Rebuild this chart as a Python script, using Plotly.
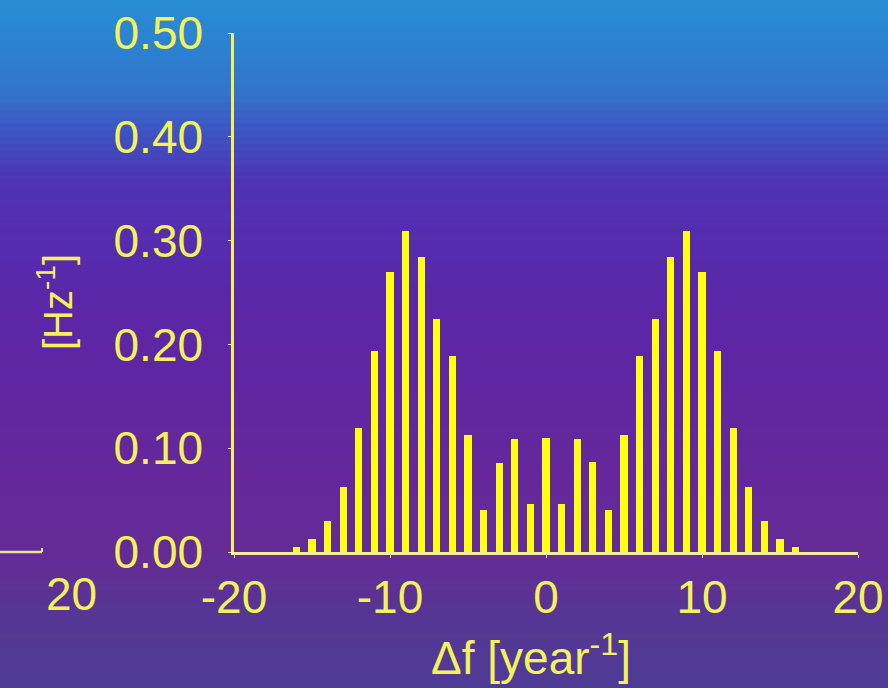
import plotly.graph_objects as go

# Data
delta_f = list(range(-16, 17))
density = [0.005, 0.013, 0.030, 0.063, 0.119, 0.194, 0.270, 0.309, 0.284, 0.224,
           0.189, 0.113, 0.040, 0.086, 0.109, 0.046, 0.110, 0.046, 0.109, 0.087,
           0.040, 0.113, 0.189, 0.224, 0.284, 0.309, 0.270, 0.194, 0.119, 0.063,
           0.030, 0.013, 0.005]
x_ticks = [-20, -10, 0, 10, 20]
y_ticks = [0.0, 0.1, 0.2, 0.3, 0.4, 0.5]
y_tick_labels = ["0.00", "0.10", "0.20", "0.30", "0.40", "0.50"]

W, H = 888, 688
YEL = "#f4f25a"
FONT = "Liberation Sans"
pl, pr, pt, pb = 234, 30, 33, 136
pw, ph = W - pl - pr, H - pt - pb

fig = go.Figure()
fig.add_trace(go.Bar(x=delta_f, y=density, width=0.45,
                     marker=dict(color="#ffff14", line=dict(width=0))))

# background gradient (top blue -> purple), stops in figure-pixel fraction from top
stops = [(0.0, (40, 142, 212)), (0.13, (50, 118, 205)), (0.19, (62, 85, 195)),
         (0.27, (80, 50, 180)), (0.45, (92, 38, 168)), (0.70, (102, 40, 155)),
         (0.82, (100, 45, 150)), (0.90, (85, 55, 148)), (1.0, (78, 60, 150))]
def col(t):
    for (a, ca), (b, cb) in zip(stops[:-1], stops[1:]):
        if a <= t <= b:
            f = (t - a) / (b - a)
            c = [int(ca[i] + f * (cb[i] - ca[i])) for i in range(3)]
            return f"rgb({c[0]},{c[1]},{c[2]})"
    return "rgb(78,60,150)"

def py(px):  # figure pixel (from top) -> paper y
    return (H - pb - px) / ph
def pxx(px):  # figure pixel (from left) -> paper x
    return (px - pl) / pw

shapes = []
N = 100
for i in range(N):
    t0, t1 = i / N, (i + 1) / N
    top = t0 * H if i > 0 else -10
    shapes.append(dict(type="rect", xref="paper", yref="paper",
                       x0=pxx(-10), x1=pxx(W + 10), y0=py(t1 * H + 1), y1=py(top),
                       fillcolor=col((t0 + t1) / 2), line=dict(width=0), layer="below"))

# fragment of neighbouring panel on the left
shapes.append(dict(type="line", xref="paper", yref="paper", x0=pxx(0), x1=pxx(42),
                   y0=0, y1=0, line=dict(color="#e8e0a0", width=2.5)))
shapes.append(dict(type="line", xref="paper", yref="paper", x0=pxx(42), x1=pxx(42),
                   y0=0, y1=4 / ph, line=dict(color="#e8e0a0", width=2)))

annotations = [
    dict(text="20", xref="paper", yref="paper", x=pxx(71), y=py(594), showarrow=False,
         font=dict(family=FONT, size=46, color=YEL), xanchor="center", yanchor="middle"),
    dict(text="Δf [year<sup>-1</sup>]", xref="paper", yref="paper",
         x=pxx(531), y=py(655), showarrow=False,
         font=dict(family=FONT, size=46, color=YEL), xanchor="center", yanchor="middle"),
    dict(text="[Hz<sup>-1</sup>]", xref="paper", yref="paper", textangle=-90,
         x=pxx(55), y=py(302), showarrow=False,
         font=dict(family=FONT, size=40, color=YEL), xanchor="center", yanchor="middle"),
]

fig.update_layout(
    width=W, height=H, autosize=False,
    margin=dict(l=pl, r=pr, t=pt, b=pb, pad=0, autoexpand=False),
    paper_bgcolor="rgb(90,50,160)", plot_bgcolor="rgba(0,0,0,0)",
    shapes=shapes, annotations=annotations, showlegend=False, bargap=0,
    font=dict(family=FONT, color=YEL),
)
fig.update_xaxes(range=[-20, 20], tickvals=x_ticks, ticktext=[str(v) for v in x_ticks],
                 showgrid=False, zeroline=False, showline=True, linecolor="#f0eca0",
                 linewidth=2.5, ticks="outside", ticklen=3, tickcolor="#f0eca0",
                 tickfont=dict(family=FONT, size=46, color=YEL), ticklabelstandoff=0,
                 automargin=False)
fig.update_yaxes(range=[0, 0.5], tickvals=y_ticks, ticktext=y_tick_labels,
                 showgrid=False, zeroline=False, showline=True, linecolor="#f2f060",
                 linewidth=2.5, ticks="outside", ticklen=3, tickcolor="#f0eca0",
                 tickfont=dict(family=FONT, size=46, color=YEL), ticklabelstandoff=16,
                 automargin=False)

fig.write_html("out.html", config={"displayModeBar": False},
               post_script="document.body.style.margin='0';document.body.style.overflow='hidden';document.documentElement.style.overflow='hidden';")
